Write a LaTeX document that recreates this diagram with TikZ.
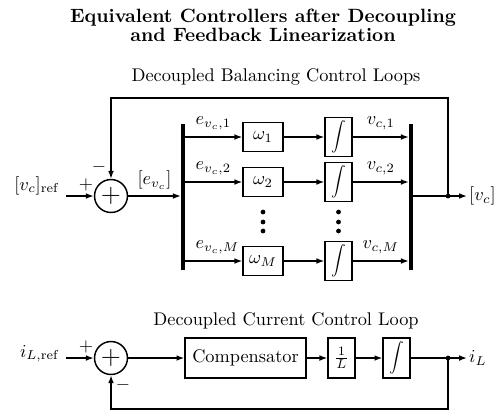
\documentclass[tikz,border=0pt]{standalone}
\usepackage{amsmath,amssymb}
\usepackage{tikz}
\usetikzlibrary{arrows.meta,positioning,calc}
\tikzset{
  flbox/.style={draw, rectangle, line width=0.8pt, inner sep=2pt},
  flwbox/.style={flbox, minimum width=21.8pt, minimum height=15.8pt},
  flibox/.style={flbox, minimum width=14.7pt, minimum height=21.3pt, inner sep=0pt},
  flsum/.style={draw, circle, line width=0.8pt, minimum size=18pt, inner sep=0pt, font=\Large},
  flbar/.style={fill=black, rectangle, minimum width=2pt, minimum height=79.7pt, inner sep=0pt},
  flarrow/.style={-{Latex[length=1.5mm, width=1.1mm]}, line width=0.8pt},
  fltap/.style={circle, fill=black, inner sep=0pt, minimum size=2.6pt},
  flsign/.style={inner sep=0pt},
  flsub/.style={inner sep=1pt},
  flhead/.style={font=\fontsize{10.5}{10.2}\selectfont\bfseries, align=center},
}
\newcommand{\FLint}{\scalebox{0.8}{$\displaystyle\int$}}
\newcommand{\FLerr}[1]{e_{v_c,#1}}
\newcommand{\FLvc}[1]{v_{c,#1}}

\begin{document}
\begin{tikzpicture}[x=0.546pt, y=-0.546pt]
  \useasboundingbox (0,0) rectangle (503,413);
  \node[flhead] (title) at (263,25) {Equivalent Controllers after Decoupling\\and Feedback Linearization};
  \node[flsub] (subA) at (276,77) {Decoupled Balancing Control Loops};
  \node[flsub] (subB) at (286,321) {Decoupled Current Control Loop};

  % balancing control loops
  \node[flsum] (sumA) at (111,196) {$+$};
  \node[flbar] (barL) at (183,197) {};
  \node[flbar] (barR) at (411,197) {};
  \node[flwbox] (w1) at (263,137) {$\omega_1$};
  \node[flwbox] (w2) at (263,182) {$\omega_2$};
  \node[flwbox] (wM) at (263,261) {$\omega_M$};
  \node[flibox] (int1) at (338.5,137) {\FLint};
  \node[flibox] (int2) at (338.5,182) {\FLint};
  \node[flibox] (intM) at (338.5,261) {\FLint};
  \node[fltap] (tapA) at (448,196) {};
  \node[anchor=base east] (vref) at (66,190) {$[v_c]_{\mathrm{ref}}$};
  \node[anchor=west, inner sep=1pt] (vout) at (467,196) {$[v_c]$};
  \node[flsign] at ([shift={(-25,-11)}]sumA) {$+$};
  \node[flsign] at ([shift={(-12,-29)}]sumA) {$-$};

  \draw[flarrow] (vref.east |- sumA) -- (sumA);
  \draw[flarrow] (sumA) -- node[above] {$[e_{v_c}]$} (sumA -| barL.west);
  \draw[flarrow] (barL.east |- w1) -- node[pos=0, anchor=south west, xshift=2pt] {$\FLerr{1}$} (w1);
  \draw[flarrow] (barL.east |- w2) -- node[pos=0, anchor=south west, xshift=2pt] {$\FLerr{2}$} (w2);
  \draw[flarrow] (barL.east |- wM) -- node[pos=0, anchor=south west, xshift=2pt] {$\FLerr{M}$} (wM);
  \draw[flarrow] (w1) -- (int1);
  \draw[flarrow] (w2) -- (int2);
  \draw[flarrow] (wM) -- (intM);
  \draw[flarrow] (int1) -- node[above] {$\FLvc{1}$} (int1 -| barR.west);
  \draw[flarrow] (int2) -- node[above] {$\FLvc{2}$} (int2 -| barR.west);
  \draw[flarrow] (intM) -- node[above] {$\FLvc{M}$} (intM -| barR.west);
  \draw[flarrow] (barR.east |- sumA) -- (vout);
  \draw[flarrow] (tapA.center) -- ++(0,-98) -| (sumA.north);
  \fill (263,212) circle (1.3pt) (263,222) circle (1.3pt) (263,231) circle (1.3pt);
  \fill (338.5,212) circle (1.3pt) (338.5,222) circle (1.3pt) (338.5,231) circle (1.3pt);

  % current control loop
  \node[flsum] (sumB) at (111,358) {$+$};
  \node[flbox, minimum width=66pt, minimum height=21.8pt] (comp) at (245.5,358) {Compensator};
  \node[flibox, minimum height=21.8pt] (invL) at (341.5,358) {$\frac{1}{L}$};
  \node[flibox, minimum height=21.8pt] (intL) at (396.5,358) {\FLint};
  \node[fltap] (tapB) at (448,358) {};
  \node[anchor=base east] (iref) at (66,357) {$i_{L,\mathrm{ref}}$};
  \node[anchor=west, inner sep=1pt] (iL) at (467,358) {$i_L$};
  \node[flsign] at ([shift={(-25,-11)}]sumB) {$+$};
  \node[flsign] at ([shift={(12,27)}]sumB) {$-$};

  \draw[flarrow] (iref.east |- sumB) -- (sumB);
  \draw[flarrow] (sumB) -- (comp);
  \draw[flarrow] (comp) -- (invL);
  \draw[flarrow] (invL) -- (intL);
  \draw[flarrow] (intL) -- (iL);
  \draw[flarrow] (tapB.center) -- ++(0,51) -| (sumB.south);
\end{tikzpicture}
\end{document}
